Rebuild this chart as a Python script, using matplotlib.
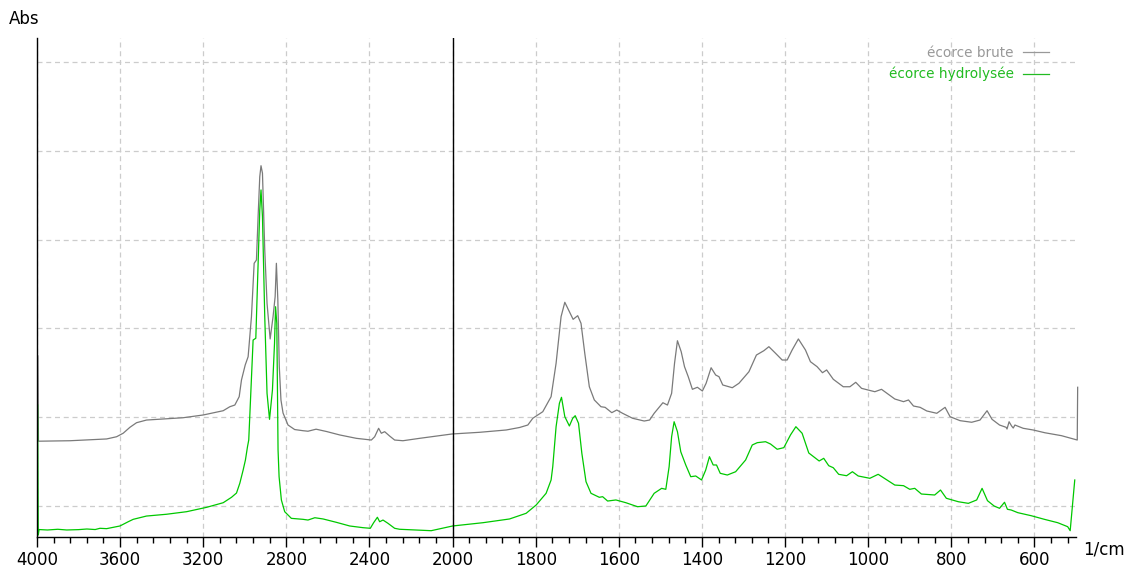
import numpy as np
import matplotlib
matplotlib.use('Agg')
import matplotlib.pyplot as plt
from matplotlib.ticker import FixedLocator, NullFormatter

plt.rcParams['font.family'] = ['DejaVu Sans']

# raw bark spectrum (wavenumber 1/cm, absorbance)
brute_wn = [3996, 3993, 3986, 3841, 3665, 3617, 3585, 3553, 3521, 3473, 3393, 3297,
            3200, 3104, 3072, 3048, 3027, 3016, 2998, 2984, 2968, 2955, 2944, 2936,
            2928, 2922, 2915, 2904, 2893, 2878, 2864, 2854, 2848, 2841, 2834, 2826,
            2816, 2792, 2760, 2720, 2696, 2657, 2607, 2543, 2463, 2391, 2375, 2356,
            2343, 2327, 2303, 2279, 2239, 2159, 2078, 2003, 1935, 1871, 1839, 1819,
            1807, 1795, 1783, 1763, 1751, 1739, 1730, 1719, 1710, 1699, 1691, 1682,
            1671, 1659, 1643, 1633, 1617, 1605, 1591, 1567, 1539, 1526, 1515, 1505,
            1494, 1483, 1473, 1466, 1459, 1450, 1442, 1433, 1423, 1411, 1399, 1390,
            1378, 1367, 1359, 1350, 1327, 1311, 1287, 1269, 1251, 1239, 1223, 1207,
            1195, 1183, 1168, 1151, 1139, 1123, 1110, 1100, 1084, 1060, 1044, 1030,
            1016, 984, 968, 936, 915, 903, 891, 875, 859, 835, 815, 803,
            779, 751, 731, 714, 702, 684, 668, 666, 661, 655, 651, 647,
            627, 603, 575, 535, 497, 496]
brute_abs = [0.269, 0.173, 0.173, 0.1735, 0.1755, 0.178, 0.182, 0.1886, 0.1938, 0.1968, 0.198, 0.1994,
             0.2025, 0.2073, 0.2118, 0.2137, 0.2231, 0.2419, 0.2588, 0.2681, 0.3132, 0.3733, 0.377, 0.4258,
             0.4708, 0.4832, 0.4747, 0.3883, 0.3283, 0.2881, 0.3132, 0.3357, 0.3733, 0.332, 0.2569, 0.2194,
             0.2047, 0.1912, 0.1861, 0.1848, 0.1842, 0.1865, 0.1839, 0.18, 0.1762, 0.1743, 0.178, 0.1875,
             0.1819, 0.1837, 0.1788, 0.1743, 0.1735, 0.1762, 0.1788, 0.1811, 0.183, 0.1856, 0.1884, 0.1912,
             0.1988, 0.2025, 0.2062, 0.2231, 0.2607, 0.3132, 0.3294, 0.3188, 0.3102, 0.3143, 0.3057, 0.272,
             0.2343, 0.2194, 0.2118, 0.2111, 0.2051, 0.2081, 0.2044, 0.1988, 0.1957, 0.1968, 0.2044, 0.21,
             0.2163, 0.2137, 0.2269, 0.2607, 0.2861, 0.2738, 0.2569, 0.2456, 0.2314, 0.2337, 0.2295, 0.2382,
             0.2557, 0.2475, 0.2456, 0.2363, 0.2332, 0.2382, 0.2512, 0.27, 0.2749, 0.2794, 0.272, 0.2644,
             0.2644, 0.2757, 0.2881, 0.2757, 0.2625, 0.2569, 0.2501, 0.2532, 0.2427, 0.2343, 0.2343, 0.2393,
             0.2325, 0.2287, 0.2314, 0.2205, 0.2175, 0.2194, 0.2126, 0.2111, 0.207, 0.2044, 0.2111, 0.2006,
             0.1961, 0.1943, 0.1968, 0.2073, 0.1976, 0.1912, 0.1886, 0.1867, 0.1949, 0.1901, 0.1878, 0.1912,
             0.1875, 0.1856, 0.1825, 0.1792, 0.1743, 0.2337]

# hydrolysed bark spectrum
hydro_wn = [3997, 3994, 3990, 3950, 3900, 3857, 3800, 3760, 3720, 3697, 3665, 3633,
            3601, 3561, 3537, 3473, 3377, 3280, 3184, 3104, 3064, 3040, 3024, 3008,
            2997, 2987, 2981, 2960, 2947, 2939, 2928, 2922, 2915, 2904, 2893, 2881,
            2867, 2857, 2852, 2846, 2840, 2835, 2824, 2808, 2776, 2720, 2696, 2663,
            2623, 2559, 2495, 2431, 2396, 2380, 2362, 2351, 2335, 2311, 2279, 2255,
            2103, 2000, 1927, 1863, 1823, 1799, 1775, 1763, 1759, 1751, 1743, 1738,
            1730, 1719, 1711, 1705, 1697, 1689, 1679, 1667, 1647, 1639, 1627, 1607,
            1583, 1555, 1535, 1515, 1497, 1487, 1479, 1473, 1467, 1459, 1451, 1439,
            1427, 1415, 1401, 1391, 1382, 1373, 1365, 1356, 1339, 1319, 1295, 1279,
            1267, 1247, 1235, 1219, 1203, 1187, 1174, 1159, 1143, 1118, 1107, 1095,
            1084, 1071, 1052, 1038, 1024, 996, 976, 936, 915, 900, 888, 872,
            840, 826, 812, 783, 759, 739, 726, 713, 697, 684, 672, 665,
            656, 640, 608, 576, 544, 520, 514, 503]
hydro_abs = [0.2137, 0.0673, 0.0735, 0.073, 0.0738, 0.073, 0.0734, 0.0741, 0.0735, 0.0749, 0.0745, 0.076,
             0.0775, 0.0823, 0.085, 0.0887, 0.0907, 0.0936, 0.0985, 0.1037, 0.1098, 0.1146, 0.1256, 0.1405,
             0.1518, 0.1668, 0.1743, 0.2869, 0.2889, 0.3508, 0.4333, 0.4559, 0.4258, 0.3132, 0.2269, 0.1976,
             0.2306, 0.2832, 0.3244, 0.3057, 0.1631, 0.133, 0.1068, 0.0936, 0.0861, 0.085, 0.0842, 0.0868,
             0.0854, 0.0816, 0.0775, 0.0756, 0.0749, 0.0812, 0.0873, 0.0823, 0.0842, 0.0805, 0.0749, 0.0738,
             0.0722, 0.0775, 0.0812, 0.0854, 0.0918, 0.1011, 0.1143, 0.1293, 0.1443, 0.1893, 0.2157, 0.2224,
             0.2006, 0.1901, 0.1988, 0.2017, 0.1931, 0.1593, 0.1274, 0.1143, 0.1098, 0.1105, 0.1056, 0.1068,
             0.1037, 0.0992, 0.1, 0.1143, 0.1199, 0.1188, 0.1443, 0.178, 0.1949, 0.1837, 0.1611, 0.1462,
             0.133, 0.1338, 0.1293, 0.1405, 0.1555, 0.1462, 0.1462, 0.1368, 0.1349, 0.1386, 0.1518, 0.1687,
             0.1713, 0.1724, 0.1698, 0.1639, 0.1657, 0.18, 0.1893, 0.1819, 0.1597, 0.1507, 0.1537, 0.1454,
             0.1431, 0.1357, 0.1341, 0.1386, 0.1338, 0.1312, 0.1357, 0.1236, 0.1229, 0.1188, 0.1199, 0.1135,
             0.1124, 0.118, 0.1087, 0.1048, 0.103, 0.1068, 0.1199, 0.106, 0.1, 0.0974, 0.1042, 0.0963,
             0.0955, 0.0925, 0.0891, 0.085, 0.0812, 0.0767, 0.0722, 0.1293]

major_wn = [4000, 3600, 3200, 2800, 2400, 2000, 1800, 1600, 1400, 1200, 1000, 800, 600]
BRUTE_COLOR = '#7a7a7a'
HYDRO_COLOR = '#00c800'


# wavenumber axis is stretched x2 below 2000 1/cm
def fwd(w):
    w = np.asarray(w, dtype=float)
    return np.where(w >= 2000, w, 2 * w - 2000)


def inv(u):
    u = np.asarray(u, dtype=float)
    return np.where(u >= 2000, u, (u + 2000) / 2)


fig = plt.figure(figsize=(11.33, 5.69), dpi=100)
ax = fig.add_axes([37 / 1133, 1 - 537 / 569, (1076 - 37) / 1133, (537 - 38) / 569])
ax.set_xscale('function', functions=(fwd, inv))

ax.plot(brute_wn, brute_abs, color=BRUTE_COLOR, lw=0.9, label='écorce brute', clip_on=False)
ax.plot(hydro_wn, hydro_abs, color=HYDRO_COLOR, lw=0.9, label='écorce hydrolysée', clip_on=False)
ax.axvline(2000, color='black', lw=1.0)

ax.set_xlim(4000, 500)
ax.set_ylim(0.0651, 0.627)

ax.set_xticks(major_wn)
ax.set_xticklabels([str(w) for w in major_wn])
minor = [w for w in list(range(3920, 2000, -80)) + list(range(1960, 500, -40)) if w not in major_wn]
ax.xaxis.set_minor_locator(FixedLocator(minor))
ax.xaxis.set_minor_formatter(NullFormatter())
ax.tick_params(axis='x', which='major', length=7, width=1, pad=3, labelsize=12, direction='out')
ax.tick_params(axis='x', which='minor', length=4, width=1, direction='out')

ax.set_yticks([0.1, 0.2, 0.3, 0.4, 0.5, 0.6])
ax.tick_params(axis='y', length=0, labelleft=False)

ax.grid(True, which='major', color='#cccccc', lw=0.9, linestyle=(0, (4, 3)))
ax.set_axisbelow(True)
for side in ('top', 'right'):
    ax.spines[side].set_visible(False)
ax.spines['left'].set_linewidth(1.0)
ax.spines['bottom'].set_linewidth(1.0)

leg = ax.legend(loc='upper right', bbox_to_anchor=((1049 - 37) / 1039, (537 - 46) / 499),
                frameon=False, markerfirst=False, handlelength=1.9, handletextpad=0.7,
                labelspacing=0.5, borderpad=0, borderaxespad=0, fontsize=9.8)
for txt, col in zip(leg.get_texts(), ['#999999', '#22bb22']):
    txt.set_color(col)
for line, col in zip(leg.get_lines(), ['#999999', '#22bb22']):
    line.set_color(col)
    line.set_linewidth(0.9)

fig.text(9 / 1133, 1 - 19 / 569, 'Abs', fontsize=12, va='center', ha='left')
fig.text(1083 / 1133, 1 - 549 / 569, '1/cm', fontsize=12, va='center', ha='left')

fig.savefig('out.png', dpi=100)
